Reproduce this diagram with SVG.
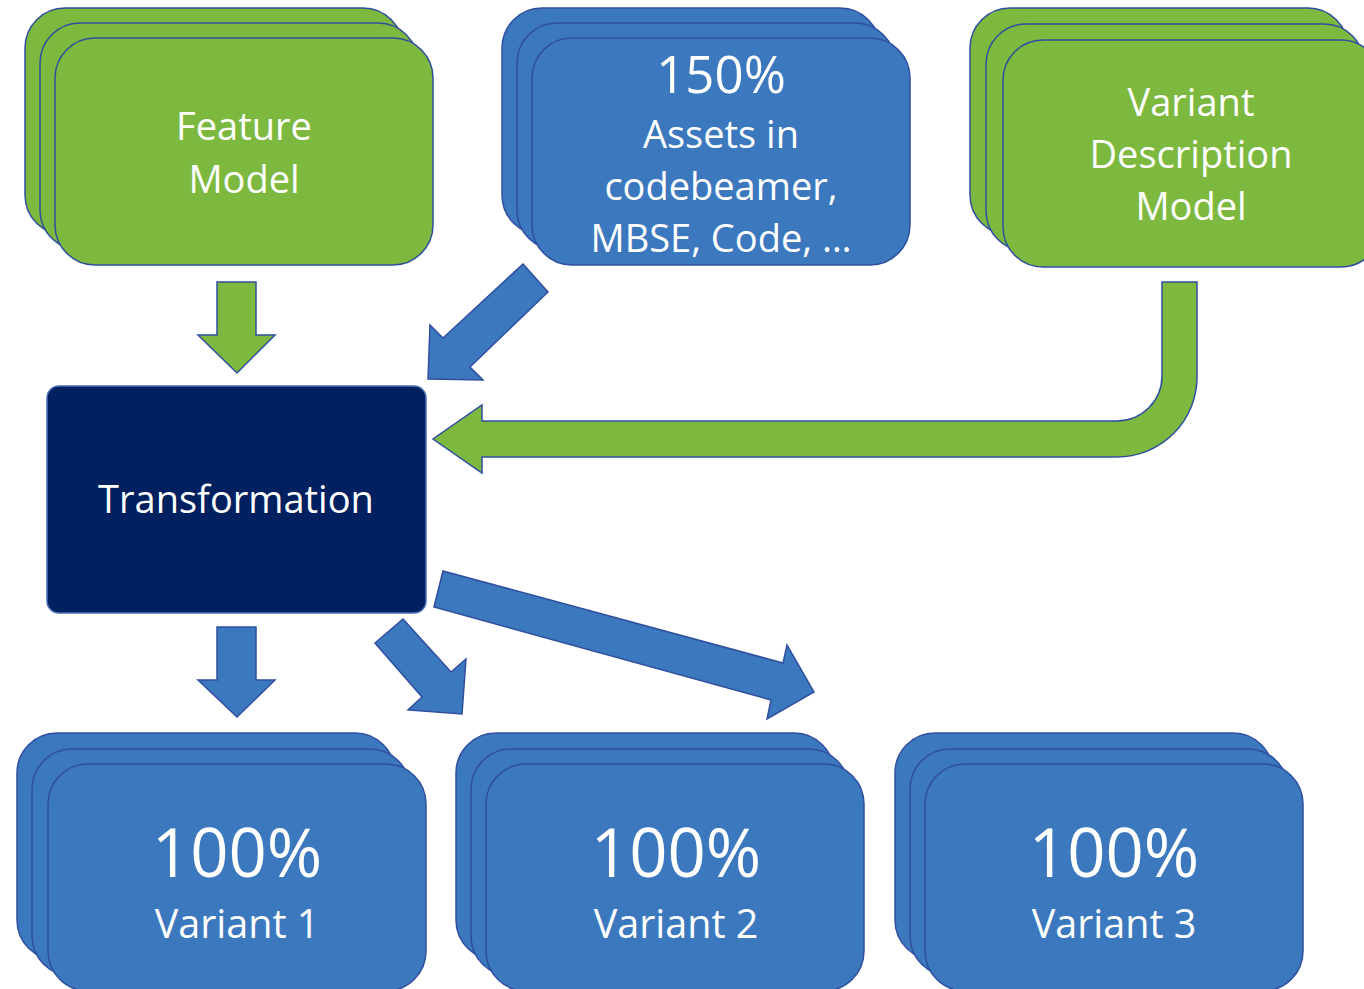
<svg xmlns="http://www.w3.org/2000/svg" width="1364" height="989" viewBox="0 0 1364 989">
<style>
.g{fill:#7DB83F;stroke:#2F4F9E;stroke-width:1.5}
.b{fill:#3C78BE;stroke:#2F4F9E;stroke-width:1.5}
.n{fill:#002060;stroke:#4A6FB5;stroke-width:1.5}
text{font-family:"Open Sans","Noto Sans","DejaVu Sans",sans-serif;fill:#fff;text-anchor:middle}
.t{font-size:38px}
.v{font-size:39.5px}
.big{font-size:51px}
.huge{font-size:67px}
</style>
<defs>
<rect id="card" width="378" height="227" rx="40" ry="40"/>
</defs>
<rect width="1364" height="989" fill="#fff"/>

<g id="feature-model">
<use href="#card" x="25" y="8" class="g"/>
<use href="#card" x="40" y="23" class="g"/>
<use href="#card" x="55" y="38" class="g"/>
<text class="t" x="244" y="140">Feature</text>
<text class="t" x="244" y="193">Model</text>
</g>

<g id="assets">
<use href="#card" x="502" y="8" class="b"/>
<use href="#card" x="517" y="23" class="b"/>
<use href="#card" x="532" y="38" class="b"/>
<text class="big" x="721" y="93">150%</text>
<text class="t" x="721" y="148">Assets in</text>
<text class="t" x="721" y="200">codebeamer,</text>
<text class="t" x="721" y="252">MBSE, Code, …</text>
</g>

<g id="variant-description-model">
<use href="#card" x="970" y="8" class="g"/>
<use href="#card" x="986" y="24" class="g"/>
<use href="#card" x="1003" y="40" class="g"/>
<text class="t" x="1191" y="116">Variant</text>
<text class="t" x="1191" y="168">Description</text>
<text class="t" x="1191" y="220">Model</text>
</g>

<g id="transformation">
<rect x="47" y="386" width="379" height="227" rx="12" ry="12" class="n"/>
<text class="t" x="236" y="513">Transformation</text>
</g>

<g id="variant-1">
<use href="#card" x="17" y="733" class="b"/>
<use href="#card" x="32" y="749" class="b"/>
<use href="#card" x="48" y="764" class="b"/>
<text class="huge" x="237" y="877">100%</text>
<text class="v" x="237" y="938">Variant 1</text>
</g>

<g id="variant-2">
<use href="#card" x="456" y="733" class="b"/>
<use href="#card" x="471" y="749" class="b"/>
<use href="#card" x="486" y="764" class="b"/>
<text class="huge" x="676" y="877">100%</text>
<text class="v" x="676" y="938">Variant 2</text>
</g>

<g id="variant-3">
<use href="#card" x="895" y="733" class="b"/>
<use href="#card" x="910" y="749" class="b"/>
<use href="#card" x="925" y="764" class="b"/>
<text class="huge" x="1114" y="877">100%</text>
<text class="v" x="1114" y="938">Variant 3</text>
</g>

<g id="connectors">
<polygon class="g" points="217,282 256,282 256,335 275,335 237,373 198,335 217,335"/>
<polygon class="b" points="523,264 548,292 470,367 483,380 428,379 430,325 443,338"/>
<path class="g" d="M1162,282 H1197 V377 A80,80 0 0 1 1117,457 H482 V473 L433,439 L482,405 V421 H1117 A45,45 0 0 0 1162,376 Z"/>
<polygon class="b" points="217,627 256,627 256,680 275,680 237,717 198,680 217,680"/>
<polygon class="b" points="403,619 451,672 466,659 462,714 408,710 422,697 375,643"/>
<polygon class="b" points="443,571 783,663 787,645 814,692 767,719 771,700 434,607"/>
</g>
</svg>
